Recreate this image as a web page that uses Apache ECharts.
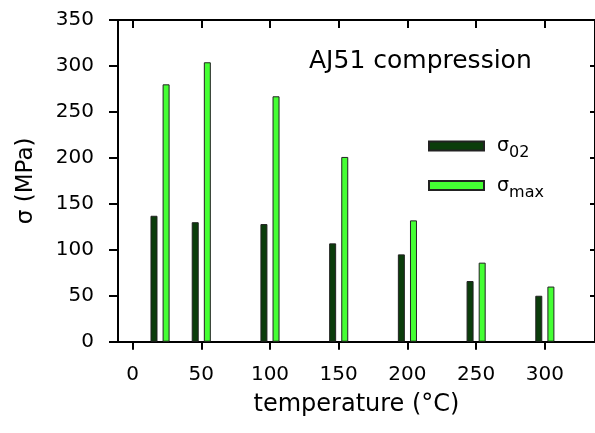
<!DOCTYPE html>
<html>
<head>
<meta charset="utf-8">
<script src="https://cdn.jsdelivr.net/npm/echarts@6/dist/echarts.min.js"></script>
<style>
html,body{margin:0;padding:0;background:#fff;overflow:hidden;}
#chart{width:595px;height:433px;}
</style>
</head>
<body>
<div id="chart"></div>
<script>
// ---- data ----
const temperatures = [20, 50, 100, 150, 200, 250, 300];
const sigma02 = [137, 130, 128, 107, 95, 66, 50];
const sigmaMax = [280, 304, 267, 201, 132, 86, 60];
const xTickValues = [0, 50, 100, 150, 200, 250, 300];
const seriesNames = ['σ02', 'σmax'];
const titleText = 'AJ51 compression';
const xName = 'temperature (°C)';
const yName = 'σ (MPa)';

const FONT = 'DejaVu Sans';
const chart = echarts.init(document.getElementById('chart'));

const axisLine = {show: true, onZero: false, lineStyle: {color: '#000', width: 2}};
const xRange = {min: -10.6, max: 336.5};

const option = {
  animation: false,
  backgroundColor: '#fff',
  title: {
    text: titleText, left: 309, top: 48.5, padding: 0,
    textStyle: {fontFamily: FONT, fontSize: 25, fontWeight: 'normal', color: '#000'}
  },
  legend: {
    orient: 'vertical', left: 428, top: 131, padding: 0,
    icon: 'rect',
    itemWidth: 55, itemHeight: 9, itemGap: 9.6,
    data: seriesNames,
    formatter: function (name) {
      return '{a|σ}{b|' + name.slice(1) + '}';
    },
    textStyle: {
      fontFamily: FONT, color: '#000',
      rich: {
        a: {fontFamily: FONT, fontSize: 19, lineHeight: 18, padding: [0, 0, 0, 8], color: '#000'},
        b: {fontFamily: FONT, fontSize: 16, lineHeight: 14, padding: [14, 0, 0, 0], color: '#000'}
      }
    }
  },
  grid: {left: 118, top: 20, width: 479, height: 321.7, containLabel: false},
  xAxis: [{
    type: 'value', position: 'bottom', ...xRange,
    name: xName, nameLocation: 'middle', nameGap: 51,
    nameTextStyle: {fontFamily: FONT, fontSize: 24, color: '#000'},
    axisLine: axisLine,
    axisTick: {show: true, inside: false, length: 8, customValues: xTickValues, lineStyle: {color: '#000', width: 2}},
    axisLabel: {show: true, customValues: xTickValues, margin: 23, fontFamily: FONT, fontSize: 20, color: '#000'},
    splitLine: {show: false}
  }, {
    type: 'value', position: 'top', ...xRange,
    axisLine: axisLine,
    axisTick: {show: true, inside: true, length: 8, customValues: xTickValues, lineStyle: {color: '#000', width: 2}},
    axisLabel: {show: false},
    splitLine: {show: false}
  }],
  yAxis: [{
    type: 'value', position: 'left', min: 0, max: 350, interval: 50,
    name: yName, nameLocation: 'middle', nameGap: 80,
    nameTextStyle: {fontFamily: FONT, fontSize: 23, color: '#000'},
    axisLine: axisLine,
    axisTick: {show: true, inside: false, length: 9, lineStyle: {color: '#000', width: 2}},
    axisLabel: {margin: 24, fontFamily: FONT, fontSize: 20, color: '#000', padding: [3, 0, 0, 0]},
    splitLine: {show: false}
  }, {
    type: 'value', position: 'right', min: 0, max: 350, interval: 50,
    axisLine: axisLine,
    axisTick: {show: true, inside: true, length: 5, lineStyle: {color: '#000', width: 2}},
    axisLabel: {show: false},
    splitLine: {show: false}
  }],
  series: [{
    name: seriesNames[0], type: 'bar', xAxisIndex: 0, yAxisIndex: 0,
    barWidth: 7, barGap: '73%',
    itemStyle: {color: '#0b3d0b', borderColor: '#222', borderWidth: 1},
    data: temperatures.map((t, i) => [t, sigma02[i]])
  }, {
    name: seriesNames[1], type: 'bar', xAxisIndex: 0, yAxisIndex: 0,
    barWidth: 7, barGap: '73%',
    itemStyle: {color: '#44ff33', borderColor: '#222', borderWidth: 1},
    data: temperatures.map((t, i) => [t, sigmaMax[i]])
  }]
};
chart.setOption(option);
</script>
</body>
</html>
